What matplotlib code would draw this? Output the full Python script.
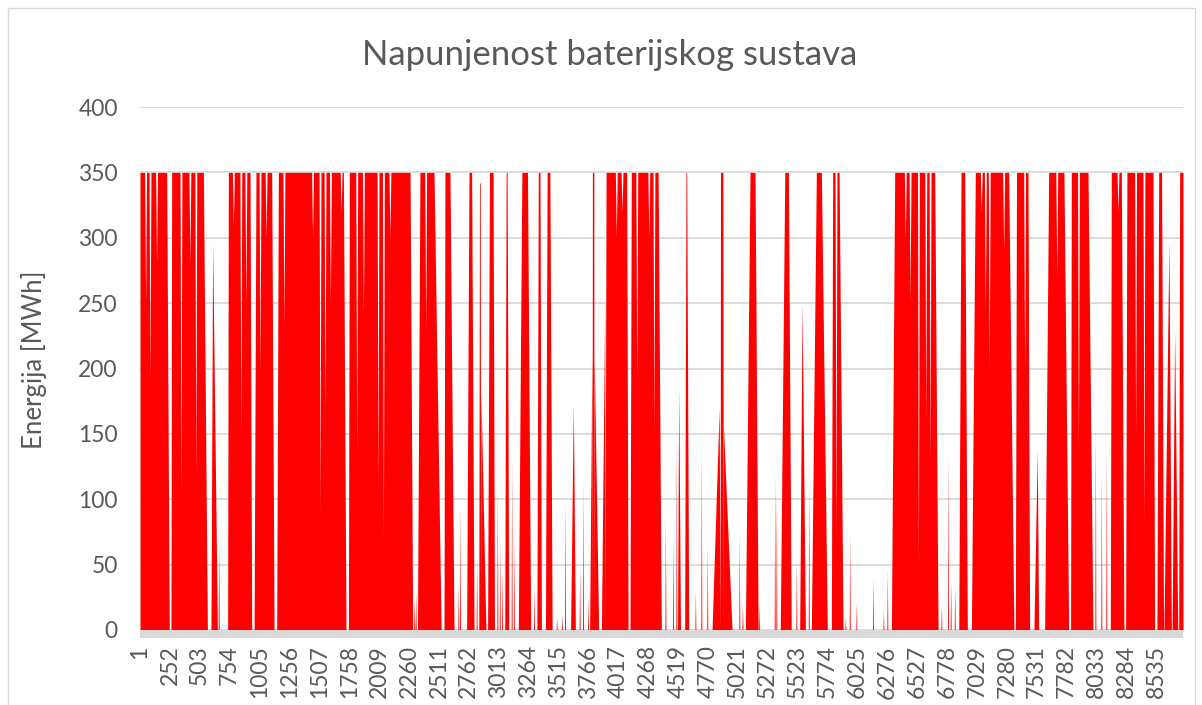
import numpy as np
import matplotlib.pyplot as plt
from matplotlib.patches import Rectangle

plt.rcParams['font.family'] = ['Lato', 'DejaVu Sans']

# Hourly battery state of charge over one year (8760 h), MWh.
# Charging bursts: (start at 0, reaches level, leaves level, back at 0, level)
bursts = [
    (1, 1, 225, 247, 350), (261, 267, 533, 567, 350), (597, 611, 611, 651, 296),
    (737, 743, 925, 939, 350), (959, 975, 1107, 1127, 350), (1149, 1163, 1709, 1731, 350),
    (1751, 1759, 2269, 2291, 350), (2331, 2352, 2470, 2530, 350), (2554, 2562, 2604, 2638, 350),
    (2744, 2764, 2786, 2806, 350), (2846, 2852, 2858, 2862, 342), (2862, 2864, 2864, 2906, 183),
    (2920, 2936, 2966, 2978, 350), (3064, 3076, 3084, 3098, 350), (3178, 3208, 3255, 3282, 350),
    (3334, 3346, 3360, 3372, 350), (3406, 3420, 3443, 3462, 350), (3617, 3640, 3640, 3657, 173),
    (3777, 3796, 3796, 3798, 212), (3798, 3800, 3812, 3814, 350), (3814, 3816, 3816, 3853, 206),
    (3876, 3904, 3904, 3906, 252), (3906, 3915, 4088, 4100, 350), (4116, 4127, 4352, 4379, 350),
    (4515, 4525, 4525, 4540, 186), (4575, 4586, 4592, 4609, 350), (4805, 4865, 4865, 4873, 170),
    (4873, 4876, 4896, 4899, 350), (4899, 4901, 4901, 4973, 155), (5085, 5124, 5166, 5192, 350),
    (5378, 5416, 5446, 5470, 350), (5541, 5561, 5561, 5589, 250), (5639, 5681, 5723, 5773, 350),
    (5807, 5818, 5872, 5905, 350), (6311, 6339, 6675, 6703, 350), (6877, 6896, 6927, 6949, 350),
    (6983, 7016, 7296, 7340, 350), (7352, 7362, 7458, 7472, 350), (7508, 7536, 7536, 7548, 137),
    (7598, 7632, 7760, 7800, 350), (7816, 7822, 7962, 8004, 350), (8150, 8158, 8242, 8264, 350),
    (8278, 8289, 8508, 8522, 350), (8541, 8556, 8580, 8597, 350), (8600, 8642, 8642, 8662, 298),
    (8668, 8690, 8690, 8716, 228), (8724, 8732, 8760, 8760, 350),
]

# Partial discharges while the battery is otherwise kept full: (hour, MWh)
dips = [
    (48, 250), (85, 190), (140, 280), (345, 102), (420, 280), (470, 117),
    (785, 309), (848, 150), (890, 250), (1009, 196), (1060, 300),
    (1210, 232), (1450, 300), (1513, 89), (1555, 166), (1600, 250), (1690, 320),
    (1821, 133), (1877, 240), (2000, 110), (2045, 71), (2100, 300), (2400, 230),
    (4001, 300), (4049, 320), (4173, 190), (4274, 300), (4317, 150), (5846, 70),
    (6428, 300), (6468, 250), (6538, 48), (6600, 160), (6636, 127),
    (7066, 320), (7100, 245), (7133, 200), (7254, 290), (7430, 200), (7700, 270),
    (7882, 137), (8214, 320), (8362, 150), (8432, 80),
]

# Short isolated charge peaks: (hour, MWh)
spikes = [
    (662, 70), (2304, 24), (2316, 30), (2674, 33), (2688, 94), (2828, 56),
    (3002, 110), (3022, 68), (3040, 45), (3122, 130), (3140, 69), (3310, 34),
    (3500, 10), (3545, 12), (3570, 100), (3693, 49), (3721, 116), (3763, 25),
    (4413, 88), (4477, 73), (4505, 147), (4665, 30), (4715, 142), (4765, 65),
    (5034, 74), (5060, 20), (5200, 20), (5331, 122), (5345, 104), (5513, 55),
    (5617, 116), (5925, 10), (5961, 75), (6017, 22), (6157, 40), (6244, 15),
    (6277, 47), (6731, 20), (6787, 137), (6809, 37), (6843, 35),
    (8024, 159), (8074, 124), (8116, 142),
]

n_hours = 8760
tick_hours = list(range(1, n_hours, 251))

# outline of the area, vertex by vertex
verts = []
for h0, h1, h2, h3, lvl in bursts:
    verts += [(h0, 0), (h1, lvl), (h2, lvl), (h3, 0)]
for h, lvl in dips:
    verts += [(h - 8, 350), (h, lvl), (h + 8, 350)]
for h, lvl in spikes:
    verts += [(h - 4, 0), (h, lvl), (h + 4, 0)]
verts.sort(key=lambda v: v[0])
x = np.array([v[0] for v in verts], dtype=float)
y = np.array([v[1] for v in verts], dtype=float)

fig = plt.figure(figsize=(12.02, 7.05), dpi=100)
ax = fig.add_axes([140 / 1202, 75 / 705, 1043 / 1202, 523 / 705])

ax.fill_between(x, y, 0, color='#FF0000', lw=0, zorder=2)

ax.set_xlim(1, n_hours)
ax.set_ylim(0, 400)
ax.set_yticks(np.arange(0, 401, 50))
ax.set_xticks(tick_hours)
ax.set_xticklabels([str(t) for t in tick_hours], rotation=90)
ax.yaxis.grid(True, color='#D9D9D9', lw=1.3, zorder=0)
ax.set_axisbelow(True)
for s in ax.spines.values():
    s.set_visible(False)
ax.tick_params(axis='y', length=0, pad=16, labelsize=16.5, labelcolor='#595959')
ax.tick_params(axis='x', length=0, pad=11, labelsize=16.5, labelcolor='#595959')

# thick grey category axis under the zero line
ax.add_patch(Rectangle((0, -8 / 523), 1, 8 / 523, transform=ax.transAxes,
                       color='#D9D9D9', lw=0, clip_on=False, zorder=3))

ax.set_ylabel('Energija [MWh]', fontsize=18.5, color='#595959')
ax.yaxis.set_label_coords(-0.089, 0.516)
fig.text(610 / 1202, 1 - 55 / 705, 'Napunjenost baterijskog sustava',
         ha='center', va='center', fontsize=25, color='#595959')

fig.patches.append(Rectangle((8 / 1202, -0.01), 1187 / 1202, 697 / 705 + 0.01,
                             transform=fig.transFigure, fill=False,
                             ec='#D9D9D9', lw=1))

fig.savefig('out.png', dpi=100)
